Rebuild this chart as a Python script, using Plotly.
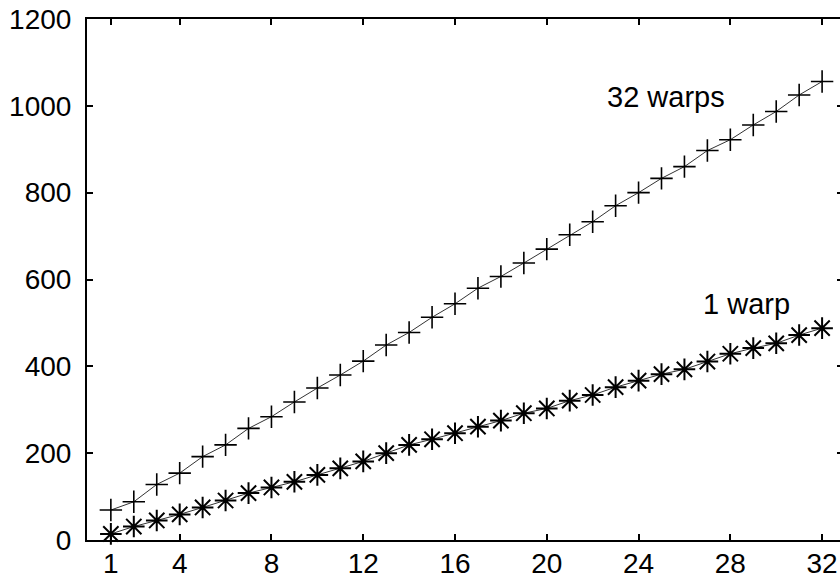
import plotly.graph_objects as go

x_vals = list(range(1, 33))
warps32 = [69, 88, 128, 154, 192, 219, 257, 284, 318, 350, 380, 412, 449, 478, 513, 544,
           580, 607, 638, 670, 703, 733, 770, 800, 833, 860, 897, 922, 956, 987, 1025, 1056]
warp1 = [14, 31, 45, 59, 75, 91, 108, 121, 134, 150, 165, 181, 200, 219, 232, 246,
         261, 275, 292, 303, 321, 334, 352, 367, 382, 393, 411, 429, 442, 453, 472, 488]
x_ticks = [1, 4, 8, 12, 16, 20, 24, 28, 32]
y_ticks = [0, 200, 400, 600, 800, 1000, 1200]
labels = [("32 warps", 25.2, 1021), ("1 warp", 28.7, 544)]

FONT = "Liberation Sans, Arial, sans-serif"

fig = go.Figure()
fig.add_trace(go.Scatter(
    x=x_vals, y=warps32, mode="lines+markers",
    line=dict(color="#333333", width=1),
    marker=dict(symbol="cross-thin-open", size=16, color="black",
                line=dict(color="black", width=1.6)),
    showlegend=False, cliponaxis=False))
fig.add_trace(go.Scatter(
    x=x_vals, y=warp1, mode="lines+markers",
    line=dict(color="#333333", width=1),
    marker=dict(symbol="asterisk-open", size=18, color="black",
                line=dict(color="black", width=2)),
    showlegend=False, cliponaxis=False))
# invisible trace so the right-side tick axis is rendered
fig.add_trace(go.Scatter(x=[1], y=[0], yaxis="y2", mode="markers",
                         marker=dict(opacity=0), showlegend=False, hoverinfo="skip"))

for text, ax, ay in labels:
    fig.add_annotation(x=ax, y=ay, text=text, showarrow=False,
                       font=dict(family=FONT, size=29, color="black"))

fig.update_layout(
    width=840, height=581,
    margin=dict(l=87, r=0, t=19, b=41, autoexpand=False),
    paper_bgcolor="white", plot_bgcolor="white",
    font=dict(family=FONT, size=28, color="black"),
    xaxis=dict(range=[-0.04, 32.78], tickvals=x_ticks, ticktext=[str(v) for v in x_ticks],
               automargin=False,
               showgrid=False, zeroline=False, showline=True, linecolor="black", linewidth=2,
               mirror="ticks", ticks="inside", ticklen=6, tickwidth=1.5, tickcolor="black",
               ticklabelstandoff=-3, tickfont=dict(family=FONT, size=28, color="black")),
    yaxis=dict(range=[0, 1200], tickvals=y_ticks, showgrid=False, zeroline=False,
               automargin=False,
               showline=True, linecolor="black", linewidth=2, mirror=False,
               ticks="inside", ticklen=6, tickwidth=1.5, tickcolor="black",
               ticklabelstandoff=8, tickfont=dict(family=FONT, size=28, color="black")),
    yaxis2=dict(range=[0, 1200], tickvals=y_ticks, overlaying="y", side="right",
                automargin=False,
                showgrid=False, zeroline=False, showline=False, showticklabels=False,
                ticks="inside", ticklen=3, tickwidth=1.5, tickcolor="black"),
)

fig.write_html("out.html")
